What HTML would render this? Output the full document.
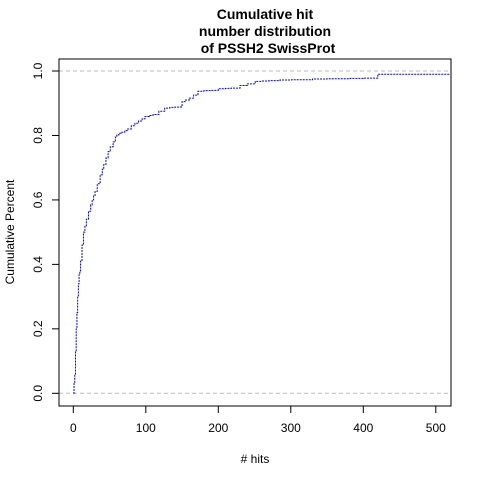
<!DOCTYPE html>
<html><head><meta charset="utf-8"><style>
body{margin:0;background:#fff}
svg{display:block;font-family:"Liberation Sans",Arial,sans-serif}
</style></head><body>
<svg id="chart" width="480" height="480" xmlns="http://www.w3.org/2000/svg">
<rect width="480" height="480" fill="#fff"/>
<g font-weight="bold" font-size="14" text-anchor="middle">
<text x="265" y="19">Cumulative hit</text>
<text x="265" y="36">number distribution</text>
<text x="268" y="53">of PSSH2 SwissProt</text>
</g>
<g id="plot"></g>
<text x="255" y="463" font-size="12" text-anchor="middle"># hits</text>
<text transform="translate(14,232) rotate(-90)" font-size="12" text-anchor="middle">Cumulative Percent</text>
</svg>
<script>
const hits = [0,1,2,3,4,5,6,7,8,9,10,12,14,16,18,21,24,26,28,30,33,37,40,42,45,48,51,55,58,60,63,66,71,75,80,85,90,95,99,105,110,118,126,133,140,149,150,155,160,166,172,180,190,200,210,218,230,240,251,260,270,285,301,330,350,380,400,420,520];
const cumPct = [0,0.03,0.06,0.13,0.2,0.25,0.3,0.34,0.37,0.38,0.41,0.46,0.5,0.52,0.54,0.565,0.585,0.6,0.612,0.626,0.65,0.678,0.695,0.71,0.73,0.75,0.765,0.78,0.795,0.802,0.807,0.81,0.815,0.82,0.83,0.838,0.845,0.852,0.859,0.862,0.865,0.875,0.885,0.887,0.888,0.89,0.905,0.91,0.916,0.925,0.937,0.939,0.94,0.945,0.946,0.947,0.955,0.96,0.968,0.969,0.97,0.972,0.973,0.975,0.976,0.977,0.978,0.99,0.99];
const xTicks = [0,100,200,300,400,500];
const yTicks = [0,0.2,0.4,0.6,0.8,1.0];
const yTickLabels = ["0.0","0.2","0.4","0.6","0.8","1.0"];

const NS="http://www.w3.org/2000/svg";
const g=document.getElementById('plot');
const X=v=>73.3+v*0.725;
const Y=v=>393.3-v*322.3;
function mk(t,a){const e=document.createElementNS(NS,t);for(const k in a)e.setAttribute(k,a[k]);g.appendChild(e);return e;}
[0,1].forEach(v=>{
 const l=mk('line',{x1:59,x2:451,y1:Y(v),y2:Y(v),stroke:'#bbb','stroke-dasharray':'4,3'});
 
 
});
let d='M'+X(hits[0])+','+Y(cumPct[0]);
for(let i=1;i<hits.length;i++){d+=' H'+X(hits[i])+' V'+Y(cumPct[i]);}
const p=mk('path',{d:d,fill:'none',stroke:'#0000ff','stroke-width':1,'stroke-dasharray':'2,1'});


const b=mk('rect',{x:59,y:59,width:392,height:347,fill:'none',stroke:'#000'});


xTicks.forEach(v=>{
 const t=mk('line',{x1:X(v),x2:X(v),y1:406,y2:413,stroke:'#000'});
 
 
 const tx=mk('text',{x:X(v),y:432,'font-size':12,'text-anchor':'middle'});
 tx.textContent=v;
 
 
});
yTicks.forEach((v,i)=>{
 const t=mk('line',{x1:52,x2:59,y1:Y(v),y2:Y(v),stroke:'#000'});
 
 
 const tx=mk('text',{transform:`translate(42,${Y(v)}) rotate(-90)`,'font-size':12,'text-anchor':'middle'});
 tx.textContent=yTickLabels[i];
 
 
});
</script>
</body></html>
